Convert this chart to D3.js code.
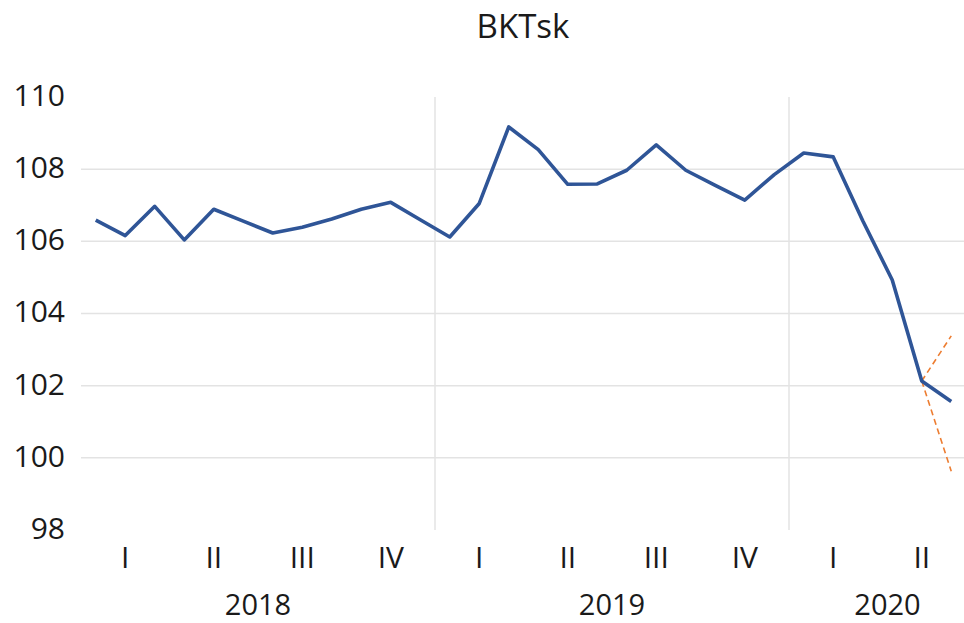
<!DOCTYPE html>
<meta charset="utf-8">
<script src="https://d3js.org/d3.v7.min.js"></script>
<style>
  body { margin: 0; background: #fff; }
  text { font-family: "Open Sans", sans-serif; fill: #1a1a1a; }
</style>
<body>
<div id="chart"></div>

<script>
// monthly index values, Jan 2018 .. Jun 2020
const months = d3.range(30);
const values = [
  106.59, 106.16, 106.97, 106.04, 106.89, 106.56, 106.23, 106.39, 106.62, 106.89, 107.08, 106.60,
  106.12, 107.05, 109.17, 108.54, 107.58, 107.59, 107.97, 108.67, 107.97, 107.55, 107.14, 107.85,
  108.45, 108.34, 106.57, 104.93, 102.13, 101.56
];
// dashed range lines from May to Jun 2020
const upperIdx = [28, 29], upperVals = [102.13, 103.38];
const lowerIdx = [28, 29], lowerVals = [102.13, 99.63];

const quarterLabels = ["I", "II", "III", "IV"];
const years = ["2018", "2019", "2020"];
const yearMonths = [12, 12, 6];
const yTicks = [98, 100, 102, 104, 106, 108, 110];
const gridTicks = [100, 102, 104, 106, 108];

const W = 964, H = 623;
const margin = {top: 97, right: -2, bottom: 93, left: 81};

const svg = d3.select("#chart").append("svg")
  .attr("width", W)
  .attr("height", H);

const x = d3.scaleBand()
  .domain(months)
  .range([margin.left, W - margin.right]);

const y = d3.scaleLinear()
  .domain([98, 110])
  .range([H - margin.bottom, margin.top]);

const cx = i => x(i) + x.bandwidth() / 2;

// horizontal gridlines
svg.append("g")
  .selectAll("line")
  .data(gridTicks)
  .join("line")
    .attr("x1", margin.left)
    .attr("x2", W)
    .attr("y1", d => y(d))
    .attr("y2", d => y(d))
    .attr("stroke", "#e3e3e3")
    .attr("stroke-width", 1.5);

// year separators
let start = 0;
const yearStart = yearMonths.map(n => { const s = start; start += n; return s; });
svg.append("g")
  .selectAll("line")
  .data(yearStart.slice(1))
  .join("line")
    .attr("x1", d => x(d))
    .attr("x2", d => x(d))
    .attr("y1", y(110))
    .attr("y2", y(98))
    .attr("stroke", "#e3e3e3")
    .attr("stroke-width", 1.5);

// y axis labels
const yAxis = svg.append("g")
  .attr("transform", `translate(${margin.left - 16},0)`)
  .call(d3.axisLeft(y).tickValues(yTicks).tickSize(0).tickPadding(0));
yAxis.select(".domain").remove();
yAxis.selectAll("text")
  .attr("font-size", 30)
  .attr("font-family", "Open Sans, sans-serif")
  .attr("fill", "#1a1a1a")
  .attr("dy", "0.28em");

// quarter labels under the middle month of each quarter
const midMonths = months.filter(m => m % 3 === 1);
const xAxis = svg.append("g")
  .attr("transform", `translate(0,${H - margin.bottom + 14})`)
  .call(d3.axisBottom(x)
    .tickValues(midMonths)
    .tickSize(0)
    .tickFormat(m => quarterLabels[Math.floor(m / 3) % 4]));
xAxis.select(".domain").remove();
xAxis.selectAll("text")
  .attr("font-size", 30)
  .attr("font-family", "Open Sans, sans-serif")
  .attr("fill", "#1a1a1a");

// year labels (the last, partial year sits a bit right of its centre)
svg.append("g")
  .selectAll("text")
  .data(years)
  .join("text")
    .attr("x", (d, i) => (x(yearStart[i]) + x(yearStart[i] + yearMonths[i] - 1) + x.bandwidth()) / 2
                         + (i === years.length - 1 ? 10 : 0))
    .attr("y", 615)
    .attr("text-anchor", "middle")
    .attr("font-size", 29)
    .text(d => d);

// dashed range lines
const dash = d3.line().x(d => cx(d[0])).y(d => y(d[1]));
[d3.zip(upperIdx, upperVals), d3.zip(lowerIdx, lowerVals)].forEach(pts => {
  svg.append("path")
    .datum(pts)
    .attr("d", dash)
    .attr("fill", "none")
    .attr("stroke", "#ED7D31")
    .attr("stroke-width", 1.6)
    .attr("stroke-dasharray", "6,4");
});

// main line
svg.append("path")
  .datum(months)
  .attr("d", d3.line().x(i => cx(i)).y(i => y(values[i])))
  .attr("fill", "none")
  .attr("stroke", "#2F5597")
  .attr("stroke-width", 3.6)
  .attr("stroke-linejoin", "round");

// title
svg.append("text")
  .attr("x", 523)
  .attr("y", 38)
  .attr("text-anchor", "middle")
  .attr("font-size", 33)
  .text("BKTsk");
</script>
</body>
